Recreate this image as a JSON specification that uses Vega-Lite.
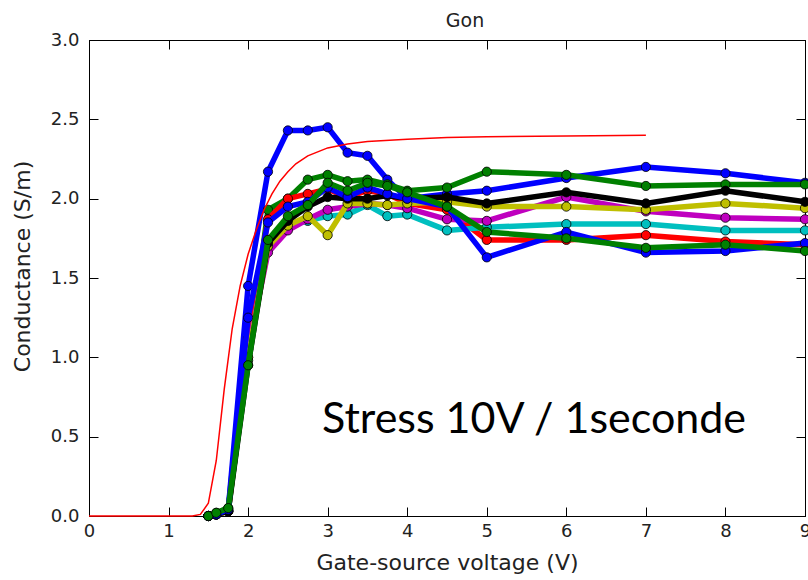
{
  "$schema": "https://vega.github.io/schema/vega-lite/v6.json",
  "width": 716,
  "height": 476,
  "autosize": {"type": "none"},
  "padding": {"left": 89, "top": 40, "right": 3, "bottom": 64},
  "background": "white",
  "title": {"text": "Gon", "font": "DejaVu Sans", "fontSize": 19, "fontWeight": "normal", "color": "#222", "offset": 0, "dx": 18},
  "datasets": {
    "curves": [
      {"s": "s1", "x": 1.5, "y": 0.0}, {"s": "s1", "x": 1.6, "y": 0.01}, {"s": "s1", "x": 1.75, "y": 0.04}, {"s": "s1", "x": 2.0, "y": 1.45}, {"s": "s1", "x": 2.25, "y": 2.17}, {"s": "s1", "x": 2.5, "y": 2.43}, {"s": "s1", "x": 2.75, "y": 2.43}, {"s": "s1", "x": 3.0, "y": 2.45}, {"s": "s1", "x": 3.25, "y": 2.29}, {"s": "s1", "x": 3.5, "y": 2.27}, {"s": "s1", "x": 3.75, "y": 2.12}, {"s": "s1", "x": 4.0, "y": 2.0}, {"s": "s1", "x": 4.5, "y": 2.03}, {"s": "s1", "x": 5, "y": 2.05}, {"s": "s1", "x": 6, "y": 2.13}, {"s": "s1", "x": 7, "y": 2.2}, {"s": "s1", "x": 8, "y": 2.16}, {"s": "s1", "x": 9, "y": 2.1},
      {"s": "s2", "x": 1.5, "y": 0.0}, {"s": "s2", "x": 1.6, "y": 0.02}, {"s": "s2", "x": 1.75, "y": 0.05}, {"s": "s2", "x": 2.0, "y": 0.98}, {"s": "s2", "x": 2.25, "y": 1.93}, {"s": "s2", "x": 2.5, "y": 2.0}, {"s": "s2", "x": 2.75, "y": 2.12}, {"s": "s2", "x": 3.0, "y": 2.15}, {"s": "s2", "x": 3.25, "y": 2.11}, {"s": "s2", "x": 3.5, "y": 2.12}, {"s": "s2", "x": 3.75, "y": 2.09}, {"s": "s2", "x": 4.0, "y": 2.05}, {"s": "s2", "x": 4.5, "y": 2.07}, {"s": "s2", "x": 5, "y": 2.17}, {"s": "s2", "x": 6, "y": 2.15}, {"s": "s2", "x": 7, "y": 2.08}, {"s": "s2", "x": 8, "y": 2.09}, {"s": "s2", "x": 9, "y": 2.09},
      {"s": "s3", "x": 1.5, "y": 0.0}, {"s": "s3", "x": 1.6, "y": 0.01}, {"s": "s3", "x": 1.75, "y": 0.03}, {"s": "s3", "x": 2.0, "y": 1.12}, {"s": "s3", "x": 2.25, "y": 1.87}, {"s": "s3", "x": 2.5, "y": 2.0}, {"s": "s3", "x": 2.75, "y": 2.03}, {"s": "s3", "x": 3.0, "y": 2.06}, {"s": "s3", "x": 3.25, "y": 2.01}, {"s": "s3", "x": 3.5, "y": 2.05}, {"s": "s3", "x": 3.75, "y": 2.03}, {"s": "s3", "x": 4.0, "y": 1.97}, {"s": "s3", "x": 4.5, "y": 1.93}, {"s": "s3", "x": 5, "y": 1.74}, {"s": "s3", "x": 6, "y": 1.74}, {"s": "s3", "x": 7, "y": 1.77}, {"s": "s3", "x": 8, "y": 1.73}, {"s": "s3", "x": 9, "y": 1.71},
      {"s": "s4", "x": 1.5, "y": 0.0}, {"s": "s4", "x": 1.6, "y": 0.01}, {"s": "s4", "x": 1.75, "y": 0.03}, {"s": "s4", "x": 2.0, "y": 1.0}, {"s": "s4", "x": 2.25, "y": 1.72}, {"s": "s4", "x": 2.5, "y": 1.83}, {"s": "s4", "x": 2.75, "y": 1.86}, {"s": "s4", "x": 3.0, "y": 1.89}, {"s": "s4", "x": 3.25, "y": 1.9}, {"s": "s4", "x": 3.5, "y": 1.96}, {"s": "s4", "x": 3.75, "y": 1.89}, {"s": "s4", "x": 4.0, "y": 1.9}, {"s": "s4", "x": 4.5, "y": 1.8}, {"s": "s4", "x": 5, "y": 1.82}, {"s": "s4", "x": 6, "y": 1.84}, {"s": "s4", "x": 7, "y": 1.84}, {"s": "s4", "x": 8, "y": 1.8}, {"s": "s4", "x": 9, "y": 1.8},
      {"s": "s5", "x": 1.5, "y": 0.0}, {"s": "s5", "x": 1.6, "y": 0.01}, {"s": "s5", "x": 1.75, "y": 0.03}, {"s": "s5", "x": 2.0, "y": 1.05}, {"s": "s5", "x": 2.25, "y": 1.66}, {"s": "s5", "x": 2.5, "y": 1.8}, {"s": "s5", "x": 2.75, "y": 1.87}, {"s": "s5", "x": 3.0, "y": 1.93}, {"s": "s5", "x": 3.25, "y": 1.95}, {"s": "s5", "x": 3.5, "y": 1.97}, {"s": "s5", "x": 3.75, "y": 1.96}, {"s": "s5", "x": 4.0, "y": 1.94}, {"s": "s5", "x": 4.5, "y": 1.87}, {"s": "s5", "x": 5, "y": 1.86}, {"s": "s5", "x": 6, "y": 2.01}, {"s": "s5", "x": 7, "y": 1.92}, {"s": "s5", "x": 8, "y": 1.88}, {"s": "s5", "x": 9, "y": 1.87},
      {"s": "s6", "x": 1.5, "y": 0.0}, {"s": "s6", "x": 1.6, "y": 0.01}, {"s": "s6", "x": 1.75, "y": 0.03}, {"s": "s6", "x": 2.0, "y": 1.0}, {"s": "s6", "x": 2.25, "y": 1.7}, {"s": "s6", "x": 2.5, "y": 1.83}, {"s": "s6", "x": 2.75, "y": 1.89}, {"s": "s6", "x": 3.0, "y": 1.77}, {"s": "s6", "x": 3.25, "y": 1.97}, {"s": "s6", "x": 3.5, "y": 1.97}, {"s": "s6", "x": 3.75, "y": 1.96}, {"s": "s6", "x": 4.0, "y": 1.97}, {"s": "s6", "x": 4.5, "y": 1.98}, {"s": "s6", "x": 5, "y": 1.95}, {"s": "s6", "x": 6, "y": 1.95}, {"s": "s6", "x": 7, "y": 1.93}, {"s": "s6", "x": 8, "y": 1.97}, {"s": "s6", "x": 9, "y": 1.94},
      {"s": "s7", "x": 1.5, "y": 0.0}, {"s": "s7", "x": 1.6, "y": 0.01}, {"s": "s7", "x": 1.75, "y": 0.03}, {"s": "s7", "x": 2.0, "y": 0.95}, {"s": "s7", "x": 2.25, "y": 1.72}, {"s": "s7", "x": 2.5, "y": 1.86}, {"s": "s7", "x": 2.75, "y": 1.95}, {"s": "s7", "x": 3.0, "y": 2.01}, {"s": "s7", "x": 3.25, "y": 2.0}, {"s": "s7", "x": 3.5, "y": 2.0}, {"s": "s7", "x": 3.75, "y": 2.02}, {"s": "s7", "x": 4.0, "y": 2.0}, {"s": "s7", "x": 4.5, "y": 2.01}, {"s": "s7", "x": 5, "y": 1.97}, {"s": "s7", "x": 6, "y": 2.04}, {"s": "s7", "x": 7, "y": 1.97}, {"s": "s7", "x": 8, "y": 2.05}, {"s": "s7", "x": 9, "y": 1.98},
      {"s": "s8", "x": 1.5, "y": 0.0}, {"s": "s8", "x": 1.6, "y": 0.01}, {"s": "s8", "x": 1.75, "y": 0.04}, {"s": "s8", "x": 2.0, "y": 1.25}, {"s": "s8", "x": 2.25, "y": 1.85}, {"s": "s8", "x": 2.5, "y": 1.95}, {"s": "s8", "x": 2.75, "y": 1.98}, {"s": "s8", "x": 3.0, "y": 2.07}, {"s": "s8", "x": 3.25, "y": 2.01}, {"s": "s8", "x": 3.5, "y": 2.07}, {"s": "s8", "x": 3.75, "y": 2.03}, {"s": "s8", "x": 4.0, "y": 2.0}, {"s": "s8", "x": 4.5, "y": 1.95}, {"s": "s8", "x": 5, "y": 1.63}, {"s": "s8", "x": 6, "y": 1.79}, {"s": "s8", "x": 7, "y": 1.66}, {"s": "s8", "x": 8, "y": 1.67}, {"s": "s8", "x": 9, "y": 1.72},
      {"s": "s9", "x": 1.5, "y": 0.0}, {"s": "s9", "x": 1.6, "y": 0.02}, {"s": "s9", "x": 1.75, "y": 0.05}, {"s": "s9", "x": 2.0, "y": 0.95}, {"s": "s9", "x": 2.25, "y": 1.74}, {"s": "s9", "x": 2.5, "y": 1.89}, {"s": "s9", "x": 2.75, "y": 1.96}, {"s": "s9", "x": 3.0, "y": 2.1}, {"s": "s9", "x": 3.25, "y": 2.05}, {"s": "s9", "x": 3.5, "y": 2.1}, {"s": "s9", "x": 3.75, "y": 2.08}, {"s": "s9", "x": 4.0, "y": 2.04}, {"s": "s9", "x": 4.5, "y": 1.95}, {"s": "s9", "x": 5, "y": 1.79}, {"s": "s9", "x": 6, "y": 1.75}, {"s": "s9", "x": 7, "y": 1.69}, {"s": "s9", "x": 8, "y": 1.71}, {"s": "s9", "x": 9, "y": 1.67}
    ],
    "fit": [
      {"x": 0.0, "y": 0.0}, {"x": 1.0, "y": 0.0}, {"x": 1.3, "y": 0.0}, {"x": 1.4, "y": 0.01}, {"x": 1.5, "y": 0.08}, {"x": 1.6, "y": 0.35}, {"x": 1.7, "y": 0.8}, {"x": 1.8, "y": 1.18}, {"x": 1.9, "y": 1.45}, {"x": 2.0, "y": 1.65}, {"x": 2.1, "y": 1.8}, {"x": 2.2, "y": 1.93}, {"x": 2.3, "y": 2.03}, {"x": 2.4, "y": 2.11}, {"x": 2.5, "y": 2.17}, {"x": 2.6, "y": 2.22}, {"x": 2.75, "y": 2.27}, {"x": 3.0, "y": 2.32}, {"x": 3.25, "y": 2.345}, {"x": 3.5, "y": 2.36}, {"x": 4.0, "y": 2.375}, {"x": 4.5, "y": 2.385}, {"x": 5.0, "y": 2.39}, {"x": 6.0, "y": 2.395}, {"x": 7.0, "y": 2.4}
    ],
    "note": [
      {"x": 2.93, "y": 0.526, "label": "Stress 10V / 1seconde"}
    ]
  },
  "data": {"name": "curves"},
  "encoding": {
    "x": {"field": "x", "type": "quantitative", "scale": {"domain": [0, 9], "nice": false, "zero": false}, "axis": null},
    "y": {"field": "y", "type": "quantitative", "scale": {"domain": [0, 3], "nice": false}, "axis": null},
    "color": {
      "field": "s", "type": "nominal", "legend": null,
      "scale": {
        "domain": ["s1", "s2", "s3", "s4", "s5", "s6", "s7", "s8", "s9"],
        "range": ["#0000ff", "#008000", "#ff0000", "#00bfbf", "#bf00bf", "#bfbf00", "#000000", "#0000ff", "#008000"]
      }
    }
  },
  "layer": [
    {
      "transform": [{"filter": "datum.s === 's1'"}],
      "mark": {"type": "line", "strokeWidth": 5.5},
      "encoding": {
        "x": {"field": "x", "type": "quantitative", "scale": {"domain": [0, 9], "nice": false, "zero": false},
              "axis": {"orient": "bottom", "values": [0, 1, 2, 3, 4, 5, 6, 7, 8, 9], "format": "d", "title": "Gate-source voltage (V)", "labelPadding": 15, "titlePadding": 12}},
        "y": {"field": "y", "type": "quantitative", "scale": {"domain": [0, 3], "nice": false},
              "axis": {"orient": "left", "values": [0, 0.5, 1, 1.5, 2, 2.5, 3], "format": ".1f", "title": "Conductance (S/m)", "labelPadding": 19, "titlePadding": 16, "titleY": 226}}
      }
    },
    {"transform": [{"filter": "datum.s === 's1'"}], "mark": {"type": "point", "filled": true, "size": 85, "stroke": "black", "strokeWidth": 0.8, "opacity": 1}},
    {"transform": [{"filter": "datum.s === 's2'"}], "mark": {"type": "line", "strokeWidth": 5.5}},
    {"transform": [{"filter": "datum.s === 's2'"}], "mark": {"type": "point", "filled": true, "size": 85, "stroke": "black", "strokeWidth": 0.8, "opacity": 1}},
    {"transform": [{"filter": "datum.s === 's3'"}], "mark": {"type": "line", "strokeWidth": 5.5}},
    {"transform": [{"filter": "datum.s === 's3'"}], "mark": {"type": "point", "filled": true, "size": 85, "stroke": "black", "strokeWidth": 0.8, "opacity": 1}},
    {"transform": [{"filter": "datum.s === 's4'"}], "mark": {"type": "line", "strokeWidth": 5.5}},
    {"transform": [{"filter": "datum.s === 's4'"}], "mark": {"type": "point", "filled": true, "size": 85, "stroke": "black", "strokeWidth": 0.8, "opacity": 1}},
    {"transform": [{"filter": "datum.s === 's5'"}], "mark": {"type": "line", "strokeWidth": 5.5}},
    {"transform": [{"filter": "datum.s === 's5'"}], "mark": {"type": "point", "filled": true, "size": 85, "stroke": "black", "strokeWidth": 0.8, "opacity": 1}},
    {"transform": [{"filter": "datum.s === 's6'"}], "mark": {"type": "line", "strokeWidth": 5.5}},
    {"transform": [{"filter": "datum.s === 's6'"}], "mark": {"type": "point", "filled": true, "size": 85, "stroke": "black", "strokeWidth": 0.8, "opacity": 1}},
    {"transform": [{"filter": "datum.s === 's7'"}], "mark": {"type": "line", "strokeWidth": 5.5}},
    {"transform": [{"filter": "datum.s === 's7'"}], "mark": {"type": "point", "filled": true, "size": 85, "stroke": "black", "strokeWidth": 0.8, "opacity": 1}},
    {"transform": [{"filter": "datum.s === 's8'"}], "mark": {"type": "line", "strokeWidth": 5.5}},
    {"transform": [{"filter": "datum.s === 's8'"}], "mark": {"type": "point", "filled": true, "size": 85, "stroke": "black", "strokeWidth": 0.8, "opacity": 1}},
    {"transform": [{"filter": "datum.s === 's9'"}], "mark": {"type": "line", "strokeWidth": 5.5}},
    {"transform": [{"filter": "datum.s === 's9'"}], "mark": {"type": "point", "filled": true, "size": 85, "stroke": "black", "strokeWidth": 0.8, "opacity": 1}},
    {
      "data": {"name": "fit"},
      "mark": {"type": "line", "strokeWidth": 1.5, "color": "#ff0000"},
      "encoding": {"color": {"value": "#ff0000"}}
    },
    {
      "data": {"name": "note"},
      "mark": {"type": "text", "font": "Lato", "fontSize": 43, "align": "left", "baseline": "alphabetic", "color": "black"},
      "encoding": {
        "text": {"field": "label"},
        "color": {"value": "black"},
        "x": {"field": "x", "type": "quantitative", "scale": {"domain": [0, 9], "nice": false, "zero": false},
              "axis": {"orient": "top", "values": [0, 1, 2, 3, 4, 5, 6, 7, 8, 9], "labels": false, "title": null}},
        "y": {"field": "y", "type": "quantitative", "scale": {"domain": [0, 3], "nice": false},
              "axis": {"orient": "right", "values": [0, 0.5, 1, 1.5, 2, 2.5, 3], "labels": false, "title": null}}
      }
    }
  ],
  "resolve": {"axis": {"x": "independent", "y": "independent"}},
  "config": {
    "view": {"stroke": "black", "strokeWidth": 1},
    "axis": {
      "grid": false,
      "domainColor": "black",
      "domainWidth": 1,
      "tickColor": "black",
      "tickWidth": 1,
      "tickSize": -9,
      "labelColor": "#222",
      "titleColor": "#222",
      "labelFont": "DejaVu Sans",
      "titleFont": "DejaVu Sans",
      "labelFontSize": 18,
      "titleFontSize": 22,
      "titleFontWeight": "normal",
      "labelFlush": false,
      "labelOverlap": false
    }
  }
}
